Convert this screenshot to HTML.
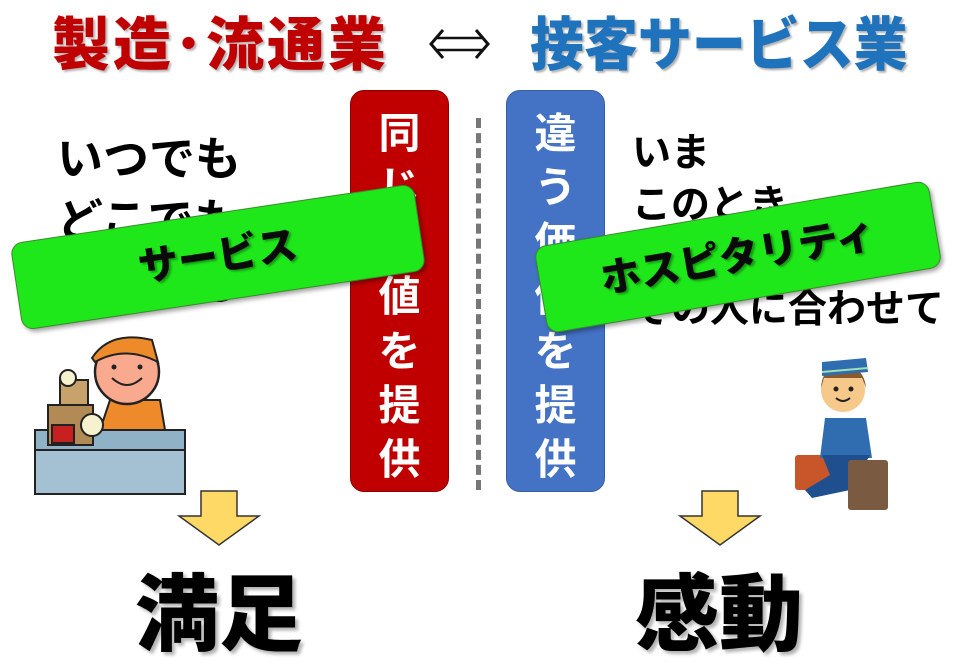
<!DOCTYPE html>
<html><head><meta charset="utf-8"><style>
body{margin:0;background:#fff;}
#c{position:relative;width:960px;height:670px;overflow:hidden;background:#fff;font-family:"Liberation Sans","Noto Sans CJK JP",sans-serif;}
.a{position:absolute;white-space:nowrap;}
.t{font-weight:900;font-size:58px;line-height:60px;top:16px;transform-origin:left top;}
.txt{font-weight:bold;color:#000;}
.vbox{position:absolute;top:90px;width:97px;height:400px;border-radius:14px;}
.vch{position:absolute;left:0;width:97px;text-align:center;color:#fff;font-weight:bold;font-size:42px;line-height:44px;}
.ban{position:absolute;background:#1ee81a;border:1px solid #3a8a2a;border-radius:12px;box-shadow:2px 3px 4px rgba(0,0,0,.35);text-align:center;font-weight:900;color:#0a0a0a;text-shadow:2px 2px 2px rgba(0,0,0,.35);}
.big{font-weight:900;font-size:84px;line-height:90px;color:#000;text-shadow:3px 3px 3px rgba(0,0,0,.3);}
</style></head><body><div id="c">
<div class="a t" style="left:52px;color:#c00000;letter-spacing:3px;text-shadow:2px 2px 2px rgba(0,0,0,.3)">製造･流通業</div>
<div class="a t" style="left:530px;color:#1f73bd;transform:scaleX(0.93);text-shadow:2px 2px 2px rgba(0,0,0,.3)">接客サービス業</div>

<div class="a txt" style="left:57px;top:128px;font-size:46px;line-height:62px;">いつでも<br>どこでも<br>だれでも</div>
<div class="a txt" style="left:632px;top:128px;font-size:39px;line-height:52px;">いま<br>このとき<br>ここで<br>その人に合わせて</div>

<div class="vbox" style="left:350px;background:#c00000;border:1px solid #8a0000;">
<div class="vch" style="top:21px">同</div><div class="vch" style="top:75px">じ</div><div class="vch" style="top:130px">価</div><div class="vch" style="top:184px">値</div><div class="vch" style="top:239px">を</div><div class="vch" style="top:293px">提</div><div class="vch" style="top:347px">供</div>
</div>
<div class="a" style="left:476px;top:118px;height:372px;border-left:5px dashed #777;"></div>
<div class="vbox" style="left:506px;background:#4472c4;border:1px solid #35609f;">
<div class="vch" style="top:21px">違</div><div class="vch" style="top:75px">う</div><div class="vch" style="top:130px">価</div><div class="vch" style="top:184px">値</div><div class="vch" style="top:239px">を</div><div class="vch" style="top:293px">提</div><div class="vch" style="top:347px">供</div>
</div>

<div class="ban" style="left:14px;top:213px;width:406px;height:86px;line-height:86px;font-size:40px;transform:rotate(-8.5deg);">サービス</div>
<div class="ban" style="left:538px;top:213px;width:398px;height:86px;line-height:86px;font-size:40px;transform:rotate(-9.7deg);">ホスピタリティ</div>

<svg class="a" style="left:0;top:0" width="960" height="670">
<!-- double arrow -->
<path d="M443 30 L431 44 L443 58 M476 30 L488 44 L476 58" fill="none" stroke="#111" stroke-width="3"/>
<path d="M437 38 L482 38 M437 50 L482 50" stroke="#111" stroke-width="2.5"/>
<!-- worker -->
<rect x="35" y="448" width="150" height="46" fill="#a3c1d3" stroke="#222" stroke-width="2"/>
<path d="M35 430 L185 430 L185 450 L35 450 Z" fill="#8fb2c6" stroke="#222" stroke-width="2"/>
<path d="M110 400 L160 400 L165 430 L100 430 Z" fill="#ef8a2b" stroke="#222" stroke-width="2"/>
<circle cx="127" cy="372" r="32" fill="#f8a98e" stroke="#222" stroke-width="2.5"/>
<path d="M92 358 Q110 330 152 340 L158 362 Q125 345 95 362 Z" fill="#ef8a2b" stroke="#222" stroke-width="2"/>
<circle cx="114" cy="367" r="2.5" fill="#222"/><circle cx="140" cy="367" r="2.5" fill="#222"/>
<path d="M112 378 Q127 392 142 378" fill="none" stroke="#222" stroke-width="2"/>
<rect x="60" y="380" width="28" height="25" fill="#c8a26b" stroke="#222" stroke-width="2"/>
<rect x="48" y="405" width="45" height="40" fill="#b28a55" stroke="#222" stroke-width="2"/>
<rect x="52" y="425" width="22" height="18" fill="#c62020" stroke="#222" stroke-width="2"/>
<circle cx="68" cy="378" r="8" fill="#f6f1cf" stroke="#222" stroke-width="2"/>
<circle cx="92" cy="425" r="11" fill="#f6f1cf" stroke="#222" stroke-width="2"/>
<!-- bellboy -->
<rect x="795" y="455" width="40" height="35" rx="3" fill="#c8562a"/>
<path d="M825 418 L866 418 L872 458 L820 458 Z" fill="#2f6db0"/>
<path d="M822 455 L870 455 L850 490 L812 498 L805 490 L830 475 Z" fill="#1f4f8e"/>
<rect x="848" y="460" width="40" height="50" rx="3" fill="#7a5a40"/>
<circle cx="843" cy="390" r="22" fill="#f6c98a"/>
<path d="M821 388 Q822 366 843 366 Q864 366 866 388 L862 378 L824 378 Z" fill="#8a5a2c"/>
<path d="M822 362 L866 358 L868 372 L822 376 Z" fill="#2f6db0"/>
<path d="M822 372 L868 368" stroke="#9fe0b0" stroke-width="2"/>
<circle cx="836" cy="389" r="2.5" fill="#222"/><circle cx="851" cy="389" r="2.5" fill="#222"/>
<path d="M836 398 Q843 404 850 398" fill="none" stroke="#222" stroke-width="2"/>
<!-- arrows -->
<path d="M201 491 L237 491 L237 516 L259 516 L219 545 L179 516 L201 516 Z" fill="#ffd966" stroke="#333" stroke-width="1.5"/>
<path d="M702 491 L738 491 L738 516 L760 516 L720 545 L680 516 L702 516 Z" fill="#ffd966" stroke="#333" stroke-width="1.5"/>
</svg>

<div class="a big" style="left:135px;top:570px;">満足</div>
<div class="a big" style="left:635px;top:570px;">感動</div>
</div></body></html>
